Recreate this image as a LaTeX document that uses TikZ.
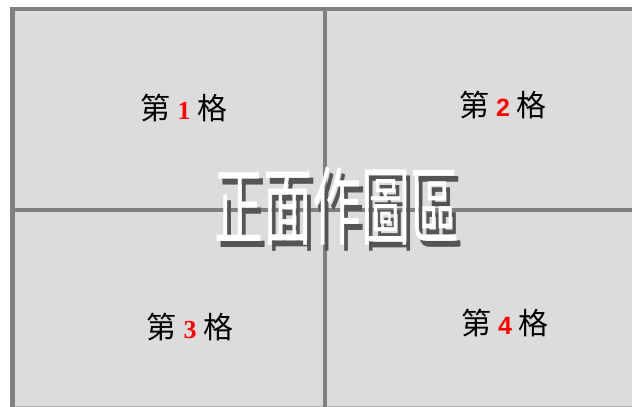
\documentclass[tikz,border=0pt]{standalone}
\usepackage{fontspec}
\setmainfont{Liberation Serif}
\newfontfamily\cjk{Noto Sans CJK TC}
\newfontfamily\numsans{Liberation Sans}
\newfontfamily\numser{Liberation Serif}
\definecolor{cellfill}{HTML}{DCDCDC}
\definecolor{gridline}{HTML}{808080}
\definecolor{shadowgray}{HTML}{555555}
\tikzset{
  gridrule/.style={draw=gridline, line width=4.5pt},
  cell/.style={font=\cjk\fontsize{30}{30}\selectfont, text=black, inner sep=0pt},
  bigtext/.style={inner sep=0pt},
}
\newcommand{\numserif}[1]{\textcolor{red}{\numser\fontsize{26}{26}\selectfont\bfseries #1}}
\newcommand{\numsansb}[1]{\textcolor{red}{\numsans\fontsize{25}{25}\selectfont\bfseries #1}}
\newcommand{\wordtext}{\cjk\fontsize{49}{49}\selectfont 正面作圖區}
\newcommand{\bigword}{\scalebox{1}[1.75]{\makebox[0pt][l]{\hspace{4pt}\raisebox{-3pt}{\textcolor{shadowgray}{\wordtext}}}\textcolor{white}{\wordtext}}}
\begin{document}
\begin{tikzpicture}[x=1pt,y=-1pt]
\useasboundingbox (0,0) rectangle (632,407);
\fill[white] (0,0) rectangle (632,407);
\fill[cellfill] (12,9) rectangle (632,407);
\draw[gray!60, line width=1pt] (12,406.5) -- (632,406.5);
\draw[gridrule] (12.5,6.5) -- (12.5,407);
\draw[gridrule] (10.3,8.8) -- (632,8.8);
\draw[gridrule] (325,9) -- (325,407);
\draw[gridrule] (12,210) -- (632,210);
\node[cell] (c1) at (184,108) {第 \numserif{1} 格};
\node[cell] (c2) at (503,105) {第 \numsansb{2} 格};
\node[cell] (c3) at (190,327) {第 \numserif{3} 格};
\node[cell] (c4) at (505,323) {第 \numsansb{4} 格};
\node[bigtext] (title) at (337,209) {\bigword};
\end{tikzpicture}
\end{document}
